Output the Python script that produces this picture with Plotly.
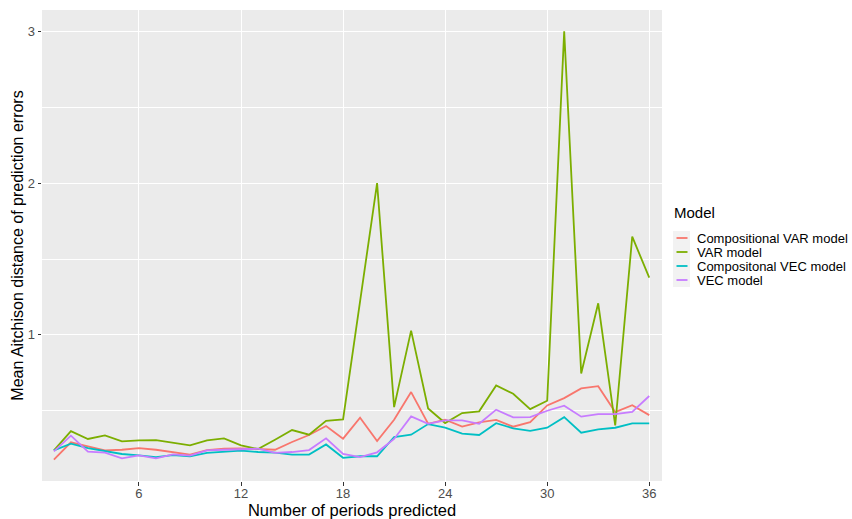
import plotly.graph_objects as go

# Forecast horizon (number of periods predicted)
periods = list(range(1, 37))

# Mean Aitchison distance of prediction errors, per model
comp_var = [0.178, 0.292, 0.265, 0.239, 0.243, 0.254, 0.243, 0.226, 0.211, 0.241,
            0.250, 0.252, 0.246, 0.243, 0.294, 0.340, 0.399, 0.316, 0.454, 0.300,
            0.441, 0.623, 0.414, 0.441, 0.395, 0.423, 0.440, 0.395, 0.425, 0.535,
            0.583, 0.647, 0.662, 0.491, 0.537, 0.471]
var_model = [0.239, 0.366, 0.314, 0.338, 0.298, 0.305, 0.307, 0.289, 0.272, 0.305,
             0.318, 0.272, 0.248, 0.309, 0.373, 0.342, 0.434, 0.443, 1.220, 2.000,
             0.524, 1.028, 0.515, 0.419, 0.485, 0.496, 0.667, 0.612, 0.511, 0.566,
             3.000, 0.745, 1.208, 0.403, 1.647, 1.377]
comp_vec = [0.239, 0.283, 0.254, 0.235, 0.215, 0.206, 0.195, 0.208, 0.200, 0.222,
            0.230, 0.237, 0.228, 0.224, 0.211, 0.211, 0.278, 0.190, 0.200, 0.200,
            0.327, 0.342, 0.412, 0.388, 0.349, 0.340, 0.418, 0.384, 0.368, 0.388,
            0.458, 0.355, 0.377, 0.388, 0.417, 0.417]
vec_model = [0.232, 0.336, 0.230, 0.224, 0.186, 0.206, 0.186, 0.213, 0.204, 0.239,
             0.243, 0.246, 0.250, 0.222, 0.228, 0.241, 0.318, 0.215, 0.195, 0.226,
             0.314, 0.463, 0.414, 0.436, 0.436, 0.414, 0.507, 0.456, 0.458, 0.500,
             0.533, 0.461, 0.478, 0.478, 0.493, 0.597]

model_names = ["Compositional VAR model", "VAR model",
               "Compositonal VEC model", "VEC model"]
series = [comp_var, var_model, comp_vec, vec_model]
colors = ["#F8766D", "#7CAE00", "#00BFC4", "#C77CFF"]

x_ticks = [6, 12, 18, 24, 30, 36]
y_ticks = [1, 2, 3]

FONT = "Liberation Sans, Arial, Helvetica, sans-serif"

# Plot area in pixels (used to place the legend in paper coordinates)
W, H = 852, 519
ML, MR, MT, MB = 42, 190, 10, 38
PW, PH = W - ML - MR, H - MT - MB


def px_x(p):
    return (p - ML) / PW


def px_y(p):
    return (H - MB - p) / PH


fig = go.Figure()
for name, vals, col in zip(model_names, series, colors):
    fig.add_trace(go.Scatter(
        x=periods, y=vals, mode="lines", name=name,
        line=dict(color=col, width=1.8), showlegend=False,
    ))

# Legend drawn in ggplot style: title, grey key boxes, short line keys
entry_gap = 14
first_entry = 238
fig.add_annotation(x=px_x(672), y=px_y(212), xref="paper", yref="paper",
                   text="Model", showarrow=False, xanchor="left", yanchor="middle",
                   font=dict(family=FONT, size=15, color="#000000"))
fig.add_shape(type="rect", xref="paper", yref="paper",
              x0=px_x(673), x1=px_x(690),
              y0=px_y(first_entry + 3.5 * entry_gap), y1=px_y(first_entry - 0.5 * entry_gap),
              fillcolor="#F2F2F2", line=dict(width=0), layer="below")
for i, (name, col) in enumerate(zip(model_names, colors)):
    yy = px_y(first_entry + i * entry_gap)
    fig.add_shape(type="line", xref="paper", yref="paper",
                  x0=px_x(676.5), x1=px_x(687.5), y0=yy, y1=yy,
                  line=dict(color=col, width=1.8))
    fig.add_annotation(x=px_x(695), y=yy, xref="paper", yref="paper", text=name,
                       showarrow=False, xanchor="left", yanchor="middle",
                       font=dict(family=FONT, size=13, color="#000000"))

fig.update_layout(
    width=W, height=H,
    margin=dict(l=ML, r=MR, t=MT, b=MB, autoexpand=False),
    paper_bgcolor="#FFFFFF",
    plot_bgcolor="#EBEBEB",
    font=dict(family=FONT, color="#000000"),
    xaxis=dict(
        range=[0.3, 36.75], tickvals=x_ticks, ticktext=[str(v) for v in x_ticks],
        showgrid=True, gridcolor="#FFFFFF", gridwidth=1.1, zeroline=False,
        ticks="outside", ticklen=3.5, tickcolor="#333333", tickwidth=1,
        ticklabelstandoff=-3,
        tickfont=dict(family=FONT, size=13, color="#4D4D4D"),
        title=dict(text="Number of periods predicted",
                   font=dict(family=FONT, size=16.5, color="#000000"), standoff=0),
        showline=False, automargin=True,
    ),
    yaxis=dict(
        range=[0.037, 3.141], tickvals=y_ticks, ticktext=[str(v) for v in y_ticks],
        showgrid=True, gridcolor="#FFFFFF", gridwidth=1.1, zeroline=False,
        ticks="outside", ticklen=3.5, tickcolor="#333333", tickwidth=1,
        tickfont=dict(family=FONT, size=13, color="#4D4D4D"),
        minor=dict(tickvals=[0.5, 1.5, 2.5], showgrid=True,
                   gridcolor="#FFFFFF", gridwidth=0.55, ticks=""),
        title=dict(text="Mean Aitchison distance of prediction errors",
                   font=dict(family=FONT, size=16, color="#000000"), standoff=0),
        showline=False, automargin=True,
    ),
)

fig.write_html("out.html")
